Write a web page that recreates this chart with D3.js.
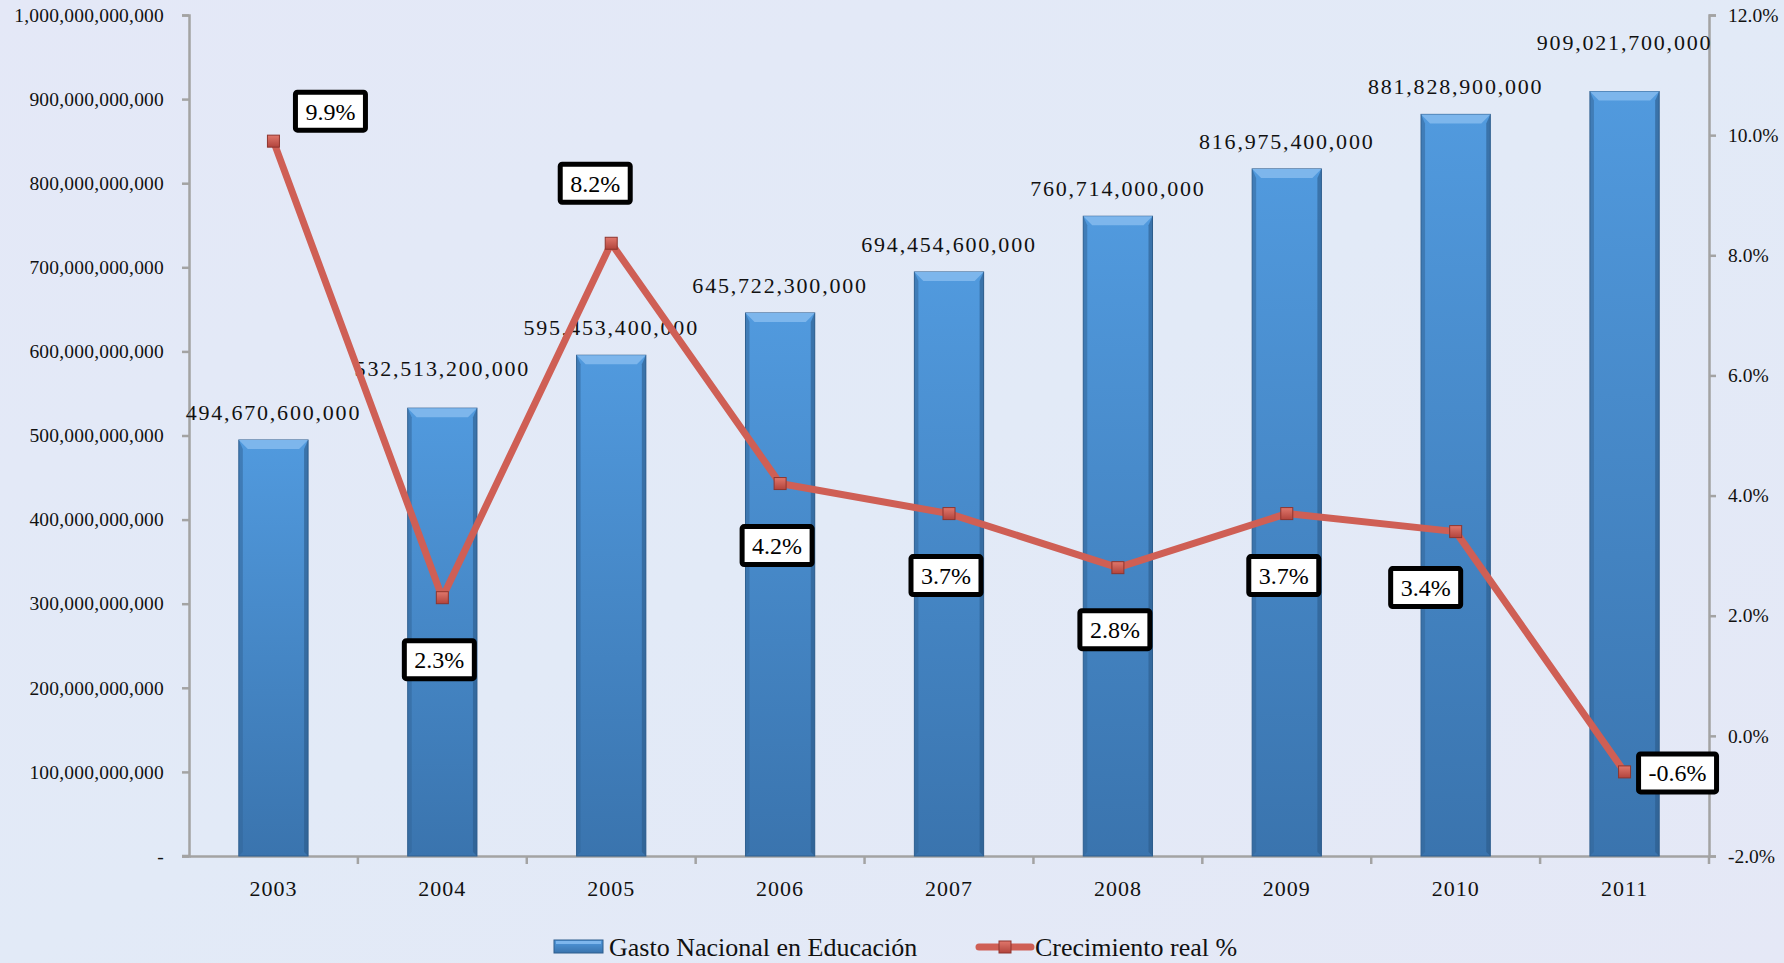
<!DOCTYPE html>
<html>
<head>
<meta charset="utf-8">
<script src="https://cdn.jsdelivr.net/npm/d3@7"></script>
<style>
  body { margin: 0; background: #e3e9f6; }
  svg { display: block; font-family: "Liberation Serif", "DejaVu Serif", serif; }
</style>
</head>
<body>
<script>
// chart data
var years = ["2003", "2004", "2005", "2006", "2007", "2008", "2009", "2010", "2011"];
var gasto = [494670600000, 532513200000, 595453400000, 645722300000, 694454600000,
             760714000000, 816975400000, 881828900000, 909021700000];
var crecimiento = [9.9, 2.3, 8.2, 4.2, 3.7, 2.8, 3.7, 3.4, -0.6];
var leftTicks = [0, 1e11, 2e11, 3e11, 4e11, 5e11, 6e11, 7e11, 8e11, 9e11, 1e12];
var rightTicks = [-2, 0, 2, 4, 6, 8, 10, 12];
var seriesNames = ["Gasto Nacional en Educación", "Crecimiento real %"];
// where each % label sits relative to its point (like excel label placement)
var pctPlacement = ["ne", "s", "nw", "s", "s", "s", "s", "sw", "e"];

var w = 1784, h = 963;
var margin = { top: 15, right: 75, bottom: 107, left: 189 };

// plain hyphen for negatives, like the original
var loc = d3.formatLocale({ decimal: ".", thousands: ",", grouping: [3], currency: ["$", ""], minus: "-" });
var fmtBig = loc.format(",.0f");
var fmtPct = function (d) { return loc.format(".1f")(d) + "%"; };

var svg = d3.select("body").append("svg")
    .attr("width", w)
    .attr("height", h);

var defs = svg.append("defs");
var barGrad = defs.append("linearGradient").attr("id", "barGrad")
    .attr("x1", 0).attr("y1", 0).attr("x2", 0).attr("y2", 1);
barGrad.append("stop").attr("offset", "0%").attr("stop-color", "#519ade");
barGrad.append("stop").attr("offset", "100%").attr("stop-color", "#3a74ae");

var markGrad = defs.append("linearGradient").attr("id", "markGrad")
    .attr("x1", 0).attr("y1", 0).attr("x2", 0).attr("y2", 1);
markGrad.append("stop").attr("offset", "0%").attr("stop-color", "#e0776c");
markGrad.append("stop").attr("offset", "100%").attr("stop-color", "#b2443c");

var bgGrad = defs.append("linearGradient").attr("id", "bgGrad")
    .attr("x1", 0).attr("y1", 0).attr("x2", 1).attr("y2", 1);
bgGrad.append("stop").attr("offset", "0%").attr("stop-color", "#e4e8f7");
bgGrad.append("stop").attr("offset", "50%").attr("stop-color", "#e2eaf7");
bgGrad.append("stop").attr("offset", "100%").attr("stop-color", "#e5e8f6");

// background
svg.append("rect").attr("width", w).attr("height", h).attr("fill", "url(#bgGrad)");

var x = d3.scaleBand()
    .domain(years)
    .range([margin.left, w - margin.right])
    .paddingInner(0.59)
    .paddingOuter(0.295);

var yLeft = d3.scaleLinear()
    .domain([0, 1e12])
    .range([h - margin.bottom, margin.top]);

var yRight = d3.scaleLinear()
    .domain([-2, 12])
    .range([h - margin.bottom, margin.top]);

var axisColor = "#a3a3a3";

// left axis
var gLeft = svg.append("g")
    .attr("transform", "translate(" + margin.left + ",0)")
    .call(d3.axisLeft(yLeft).tickValues(leftTicks).tickSize(7).tickPadding(18)
        .tickFormat(function (d) { return d === 0 ? "-" : fmtBig(d); }));

// right axis
var gRight = svg.append("g")
    .attr("transform", "translate(" + (w - margin.right) + ",0)")
    .call(d3.axisRight(yRight).tickValues(rightTicks).tickSize(7).tickPadding(12)
        .tickFormat(fmtPct));

// bottom axis (labels only, ticks drawn at category edges)
var gBottom = svg.append("g")
    .attr("transform", "translate(0," + (h - margin.bottom) + ")")
    .call(d3.axisBottom(x).tickSize(0).tickPadding(24));

[gLeft, gRight, gBottom].forEach(function (g) {
    g.select(".domain").attr("stroke", axisColor).attr("stroke-width", 2.5);
    g.selectAll(".tick line").attr("stroke", axisColor).attr("stroke-width", 2.5);
    g.selectAll("text").attr("fill", "#111").attr("font-family", "'Liberation Serif', serif");
});
gLeft.selectAll("text").attr("font-size", 19.5).attr("letter-spacing", 0.2);
gRight.selectAll("text").attr("font-size", 19.5);
gBottom.selectAll("text").attr("font-size", 22).attr("letter-spacing", 1);

// extend x axis a little left of the y axis and add edge ticks
gBottom.append("line")
    .attr("x1", margin.left - 7).attr("x2", margin.left)
    .attr("stroke", axisColor).attr("stroke-width", 2.5);
var edges = years.map(function (d) { return x(d) + x.bandwidth() / 2 + x.step() / 2; });
gBottom.selectAll(".edge").data(edges).enter().append("line")
    .attr("class", "edge")
    .attr("x1", function (d) { return d; }).attr("x2", function (d) { return d; })
    .attr("y1", 0).attr("y2", 8)
    .attr("stroke", axisColor).attr("stroke-width", 2.5);

// bars with a bit of bevel
var bevel = 9;
var bars = svg.append("g").selectAll("g.bar")
    .data(gasto)
    .enter().append("g").attr("class", "bar");

bars.append("rect")
    .attr("x", function (d, i) { return x(years[i]); })
    .attr("y", function (d) { return yLeft(d); })
    .attr("width", x.bandwidth())
    .attr("height", function (d) { return yLeft(0) - yLeft(d); })
    .attr("fill", "url(#barGrad)")
    .attr("stroke", "#2f5e8e")
    .attr("stroke-width", 1);

bars.append("path")
    .attr("d", function (d, i) {
        var x0 = x(years[i]), x1 = x0 + x.bandwidth(), t = yLeft(d);
        return "M" + x0 + "," + t + "L" + x1 + "," + t + "L" + (x1 - bevel) + "," + (t + bevel) +
            "L" + (x0 + bevel) + "," + (t + bevel) + "Z";
    })
    .attr("fill", "#7db6ec");

bars.append("path")
    .attr("d", function (d, i) {
        var x0 = x(years[i]), t = yLeft(d), b = yLeft(0);
        return "M" + x0 + "," + t + "L" + (x0 + 4) + "," + (t + bevel) + "L" + (x0 + 4) + "," + (b - 4) +
            "L" + x0 + "," + b + "Z";
    })
    .attr("fill", "#336699").attr("opacity", 0.55);

bars.append("path")
    .attr("d", function (d, i) {
        var x1 = x(years[i]) + x.bandwidth(), t = yLeft(d), b = yLeft(0);
        return "M" + x1 + "," + t + "L" + (x1 - 4) + "," + (t + bevel) + "L" + (x1 - 4) + "," + (b - 4) +
            "L" + x1 + "," + b + "Z";
    })
    .attr("fill", "#2b5a88").attr("opacity", 0.6);

// value labels above bars, nudged up if they collide with the previous one
var labelY = [];
gasto.forEach(function (d, i) {
    var yy = yLeft(d) - 28;
    if (i > 0 && Math.abs(labelY[i - 1] - yy) < 36) {
        yy = Math.min(yy, labelY[i - 1] - 44);
    }
    labelY.push(yy);
});

svg.append("g").selectAll("text")
    .data(gasto)
    .enter().append("text")
    .attr("x", function (d, i) { return x(years[i]) + x.bandwidth() / 2; })
    .attr("y", function (d, i) { return labelY[i]; })
    .attr("dy", "0.35em")
    .attr("text-anchor", "middle")
    .attr("font-size", 22)
    .attr("letter-spacing", 1.8)
    .attr("fill", "#111")
    .text(function (d) { return fmtBig(d); });

// growth line
var cx = function (i) { return x(years[i]) + x.bandwidth() / 2; };
var line = d3.line()
    .x(function (d, i) { return cx(i); })
    .y(function (d) { return yRight(d); });

svg.append("path")
    .datum(crecimiento)
    .attr("d", line)
    .attr("fill", "none")
    .attr("stroke", "#cf5f55")
    .attr("stroke-width", 7)
    .attr("stroke-linejoin", "round");

svg.append("g").selectAll("rect")
    .data(crecimiento)
    .enter().append("rect")
    .attr("x", function (d, i) { return cx(i) - 6; })
    .attr("y", function (d) { return yRight(d) - 6; })
    .attr("width", 12).attr("height", 12)
    .attr("fill", "url(#markGrad)")
    .attr("stroke", "#8f352e").attr("stroke-width", 1);

// % labels in black boxes
var offsets = { ne: [57, -30], nw: [-16, -60], s: [-3, 62], sw: [-30, 56], e: [53, 1] };
var pctG = svg.append("g").selectAll("g")
    .data(crecimiento)
    .enter().append("g")
    .attr("transform", function (d, i) {
        var o = offsets[pctPlacement[i]];
        return "translate(" + (cx(i) + o[0]) + "," + (yRight(d) + o[1]) + ")";
    });

pctG.append("rect").attr("class", "box");
pctG.append("text")
    .attr("text-anchor", "middle")
    .attr("dy", "0.35em")
    .attr("font-size", 24)
    .attr("fill", "#000")
    .text(fmtPct);

pctG.each(function () {
    var g = d3.select(this);
    var tw = g.select("text").node().getComputedTextLength();
    var bw = tw + 20, bh = 38;
    g.select("rect")
        .attr("x", -bw / 2).attr("y", -bh / 2)
        .attr("width", bw).attr("height", bh)
        .attr("rx", 2)
        .attr("fill", "#fff")
        .attr("stroke", "#000")
        .attr("stroke-width", 5);
});

// legend
var legend = svg.append("g").attr("transform", "translate(0,947)");
legend.append("rect")
    .attr("x", 554).attr("y", -7).attr("width", 49).attr("height", 13)
    .attr("fill", "url(#barGrad)").attr("stroke", "#2f5e8e").attr("stroke-width", 1);
legend.append("rect")
    .attr("x", 556).attr("y", -6).attr("width", 45).attr("height", 3)
    .attr("fill", "#7db6ec");
legend.append("text")
    .attr("x", 609).attr("y", 0).attr("dy", "0.35em")
    .attr("font-size", 26).attr("fill", "#111")
    .text(seriesNames[0]);

legend.append("line")
    .attr("x1", 979).attr("x2", 1031).attr("y1", 0).attr("y2", 0)
    .attr("stroke", "#cf5f55").attr("stroke-width", 7).attr("stroke-linecap", "round");
legend.append("rect")
    .attr("x", 999).attr("y", -6).attr("width", 12).attr("height", 12)
    .attr("fill", "url(#markGrad)").attr("stroke", "#8f352e").attr("stroke-width", 1);
legend.append("text")
    .attr("x", 1035).attr("y", 0).attr("dy", "0.35em")
    .attr("font-size", 26).attr("fill", "#111")
    .text(seriesNames[1]);
</script>
</body>
</html>
